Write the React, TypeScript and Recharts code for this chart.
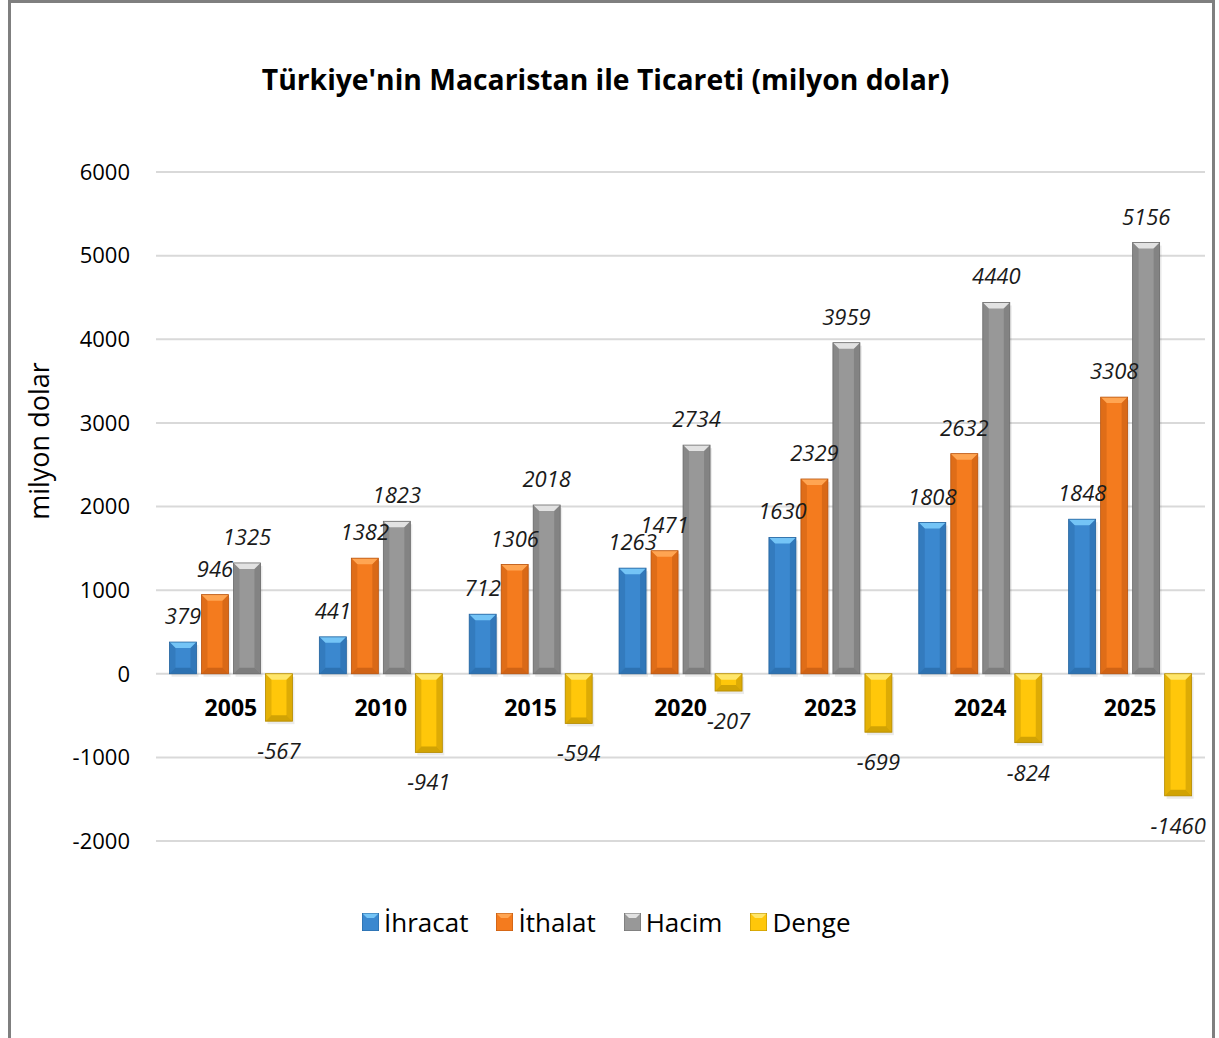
import React from "react";
import { BarChart, Bar, XAxis, YAxis, CartesianGrid, LabelList } from "recharts";

const years = ["2005", "2010", "2015", "2020", "2023", "2024", "2025"];
const ihracat = [379, 441, 712, 1263, 1630, 1808, 1848];
const ithalat = [946, 1382, 1306, 1471, 2329, 2632, 3308];
const hacim = [1325, 1823, 2018, 2734, 3959, 4440, 5156];
const denge = [-567, -941, -594, -207, -699, -824, -1460];
const yTicks = [-2000, -1000, 0, 1000, 2000, 3000, 4000, 5000, 6000];

const FONT = "'Open Sans', 'Noto Sans', sans-serif";

const series = [
    { key: "ihracat", name: "İhracat", base: "#3b88cf", light: "#74c4f6", dark: "#25649e" },
    { key: "ithalat", name: "İthalat", base: "#f47b1e", light: "#ffa552", dark: "#b8540f" },
    { key: "hacim", name: "Hacim", base: "#989898", light: "#e2e2e2", dark: "#6a6a6a" },
    { key: "denge", name: "Denge", base: "#ffc70a", light: "#ffe66a", dark: "#b38a00" },
];

const data = years.map((y, i) => ({
    year: y,
    ihracat: ihracat[i],
    ithalat: ithalat[i],
    hacim: hacim[i],
    denge: denge[i],
}));

const W = 1219;
const H = 1038;
const X_H = 30;
const M = { top: 172, right: 14, bottom: 197 - X_H, left: 0 };
const Y_W = 156;
const plotH = H - M.top - M.bottom - X_H;
const zeroY = M.top + (plotH * 6000) / 8000;

function makeShape(s: { base: string; light: string; dark: string }) {
    return (props: any) => {
        const { x, y, width, height } = props;
        const top = Math.min(y, y + height);
        const h = Math.abs(height);
        const bot = top + h;
        const w = width;
        const b = Math.min(6, h / 2, w / 2);
        return (
            <g>
                <rect x={x + 2} y={top + 3} width={w} height={h} fill="#000" opacity={0.08} />
                <rect x={x} y={top} width={w} height={h} fill={s.base} />
                <polygon points={`${x},${top} ${x + w},${top} ${x + w - b},${top + b} ${x + b},${top + b}`} fill={s.light} />
                <polygon points={`${x},${top} ${x + b},${top + b} ${x + b},${bot - b} ${x},${bot}`} fill={s.dark} opacity={0.35} />
                <polygon points={`${x + w},${top} ${x + w - b},${top + b} ${x + w - b},${bot - b} ${x + w},${bot}`} fill={s.dark} opacity={0.45} />
                <polygon points={`${x},${bot} ${x + w},${bot} ${x + w - b},${bot - b} ${x + b},${bot - b}`} fill={s.dark} opacity={0.6} />
                <rect x={x} y={top} width={w} height={h} fill="none" stroke={s.dark} strokeWidth={0.8} />
            </g>
        );
    };
}

const renderValue = (props: any) => {
    const { x, y, width, height, value } = props;
    const top = Math.min(y, y + height);
    const bot = top + Math.abs(height);
    const cy = value >= 0 ? top - 27 : bot + 29;
    return (
        <text
            x={x + width / 2}
            y={cy}
            textAnchor="middle"
            dominantBaseline="central"
            fontFamily={FONT}
            fontStyle="italic"
            fontSize={22}
            fill="#1a1a1a"
        >
            {value}
        </text>
    );
};

const YearTick = (props: any) => {
    const { x, payload } = props;
    return (
        <text
            x={x}
            y={zeroY + 33}
            textAnchor="middle"
            dominantBaseline="central"
            fontFamily={FONT}
            fontWeight="bold"
            fontSize={23}
            fill="#000"
        >
            {payload.value}
        </text>
    );
};

export default function App() {
    return (
        <div style={{ position: "absolute", left: 0, top: 0, width: W, height: H, background: "#fff", fontFamily: FONT }}>
            <div
                style={{
                    position: "absolute",
                    left: 8,
                    top: 0,
                    width: 1201,
                    height: H - 3,
                    borderLeft: "3px solid #7f7f7f",
                    borderRight: "3px solid #7f7f7f",
                    borderTop: "3px solid #7f7f7f",
                }}
            />
            <div
                style={{
                    position: "absolute",
                    left: 0,
                    width: 1211,
                    top: 60,
                    textAlign: "center",
                    fontWeight: "bold",
                    fontSize: 28.3,
                    color: "#000",
                }}
            >
                Türkiye'nin Macaristan ile Ticareti (milyon dolar)
            </div>
            <div
                style={{
                    position: "absolute",
                    left: 38,
                    top: 441,
                    transform: "translate(-50%, -50%) rotate(-90deg)",
                    whiteSpace: "nowrap",
                    fontSize: 27,
                    color: "#000",
                }}
            >
                milyon dolar
            </div>
            <div style={{ position: "absolute", left: 0, top: 0 }}>
                <BarChart width={W} height={H} data={data} margin={M} barCategoryGap="9%" barGap={5}>
                    <CartesianGrid vertical={false} stroke="#d9d9d9" strokeWidth={2} />
                    <XAxis dataKey="year" axisLine={false} tickLine={false} height={X_H} tick={<YearTick />} interval={0} />
                    <YAxis
                        width={Y_W}
                        domain={[-2000, 6000]}
                        ticks={yTicks}
                        axisLine={false}
                        tickLine={false}
                        tickSize={0}
                        tickMargin={26}
                        tick={{ fontFamily: FONT, fontSize: 22, fill: "#000" }}
                    />
                    {series.map((s) => (
                        <Bar key={s.key} dataKey={s.key} name={s.name} isAnimationActive={false} shape={makeShape(s)}>
                            <LabelList dataKey={s.key} content={renderValue} />
                        </Bar>
                    ))}
                </BarChart>
            </div>
            <div
                style={{
                    position: "absolute",
                    left: 362,
                    top: 904,
                    display: "flex",
                    alignItems: "center",
                    fontSize: 26,
                    color: "#000",
                }}
            >
                {series.map((s) => (
                    <div key={s.key} style={{ display: "flex", alignItems: "center", marginRight: 28 }}>
                        <svg width={17} height={18} style={{ marginRight: 5 }}>
                            <rect x={0} y={0} width={17} height={18} fill={s.base} />
                            <polygon points="0,0 17,0 12,5 5,5" fill={s.light} />
                            <rect x={0} y={0} width={17} height={18} fill="none" stroke={s.dark} strokeWidth={1} />
                        </svg>
                        <span>{s.name}</span>
                    </div>
                ))}
            </div>
        </div>
    );
}
